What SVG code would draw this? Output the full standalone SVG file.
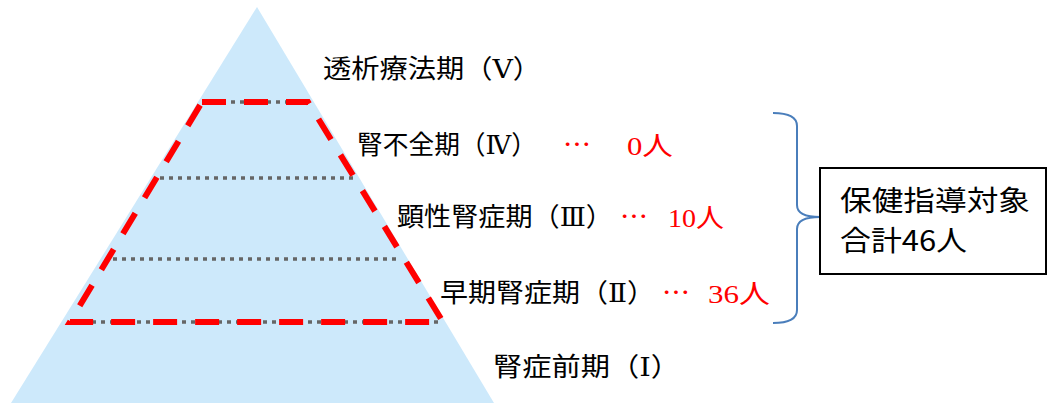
<svg xmlns="http://www.w3.org/2000/svg" width="1047" height="403" viewBox="0 0 1047 403">
<style>
.lbl{font-family:"DejaVu Serif","Noto Sans CJK JP",serif;font-size:26px;fill:#000}
.cnt{font-family:"Liberation Serif","Noto Sans CJK JP",serif;font-size:26px;fill:#ff0000}
.dots{font-family:"Noto Sans CJK JP",sans-serif;font-size:26px;fill:#ff0000}
.gray{stroke:#666666;stroke-width:3.5;stroke-dasharray:4 5;fill:none}
.box{font-family:"Noto Sans CJK JP","Noto Sans",sans-serif;font-size:28px;fill:#000}
</style>
<rect width="1047" height="403" fill="#ffffff"/>
<g id="pyramid">
<polygon points="257,7 11,403 494,403" fill="#cde9fb"/>
</g>
<g id="levels">
<line class="gray" x1="204" y1="102" x2="306" y2="102"/>
<line class="gray" x1="160" y1="178" x2="353" y2="178"/>
<line class="gray" x1="113" y1="259" x2="398" y2="259"/>
<line class="gray" x1="74" y1="322" x2="442" y2="322"/>
</g>
<g id="target-range">
<path d="M202,102 L308,102 L443,322 L70,322 Z" fill="none" stroke="#ff0000" stroke-width="6" stroke-dasharray="24 18"/>
</g>
<g id="stage5"><text class="lbl" x="323" y="78" textLength="218" lengthAdjust="spacingAndGlyphs">透析療法期（Ⅴ）</text></g>
<g id="stage4">
<text class="lbl" x="357" y="154" textLength="180" lengthAdjust="spacingAndGlyphs">腎不全期（Ⅳ）</text>
<text class="dots" x="563" y="154" textLength="28" lengthAdjust="spacingAndGlyphs">…</text>
<text class="cnt" x="627" y="155" textLength="46" lengthAdjust="spacingAndGlyphs">0人</text>
</g>
<g id="stage3">
<text class="lbl" x="397" y="226" textLength="216" lengthAdjust="spacingAndGlyphs">顕性腎症期（Ⅲ）</text>
<text class="dots" x="620" y="226" textLength="28" lengthAdjust="spacingAndGlyphs">…</text>
<text class="cnt" x="668" y="227" textLength="56" lengthAdjust="spacingAndGlyphs">10人</text>
</g>
<g id="stage2">
<text class="lbl" x="440" y="302" textLength="215" lengthAdjust="spacingAndGlyphs">早期腎症期（Ⅱ）</text>
<text class="dots" x="662" y="302" textLength="28" lengthAdjust="spacingAndGlyphs">…</text>
<text class="cnt" x="708" y="303" textLength="62" lengthAdjust="spacingAndGlyphs">36人</text>
</g>
<g id="stage1"><text class="lbl" x="493" y="376" textLength="187" lengthAdjust="spacingAndGlyphs">腎症前期（Ⅰ）</text></g>
<g id="connectors">
<path d="M773,113 Q797,113 797,126 L797,205 Q797,217 820,217 Q797,217 797,229 L797,310 Q797,323 773,323" fill="none" stroke="#4a7ebb" stroke-width="2"/>
</g>
<g id="total">
<rect x="820" y="168" width="226" height="106" fill="#ffffff" stroke="#000000" stroke-width="2"/>
<text class="box" x="840" y="211" textLength="190" lengthAdjust="spacingAndGlyphs">保健指導対象</text>
<text class="box" x="840" y="251" textLength="127" lengthAdjust="spacingAndGlyphs">合計46人</text>
</g>
</svg>
